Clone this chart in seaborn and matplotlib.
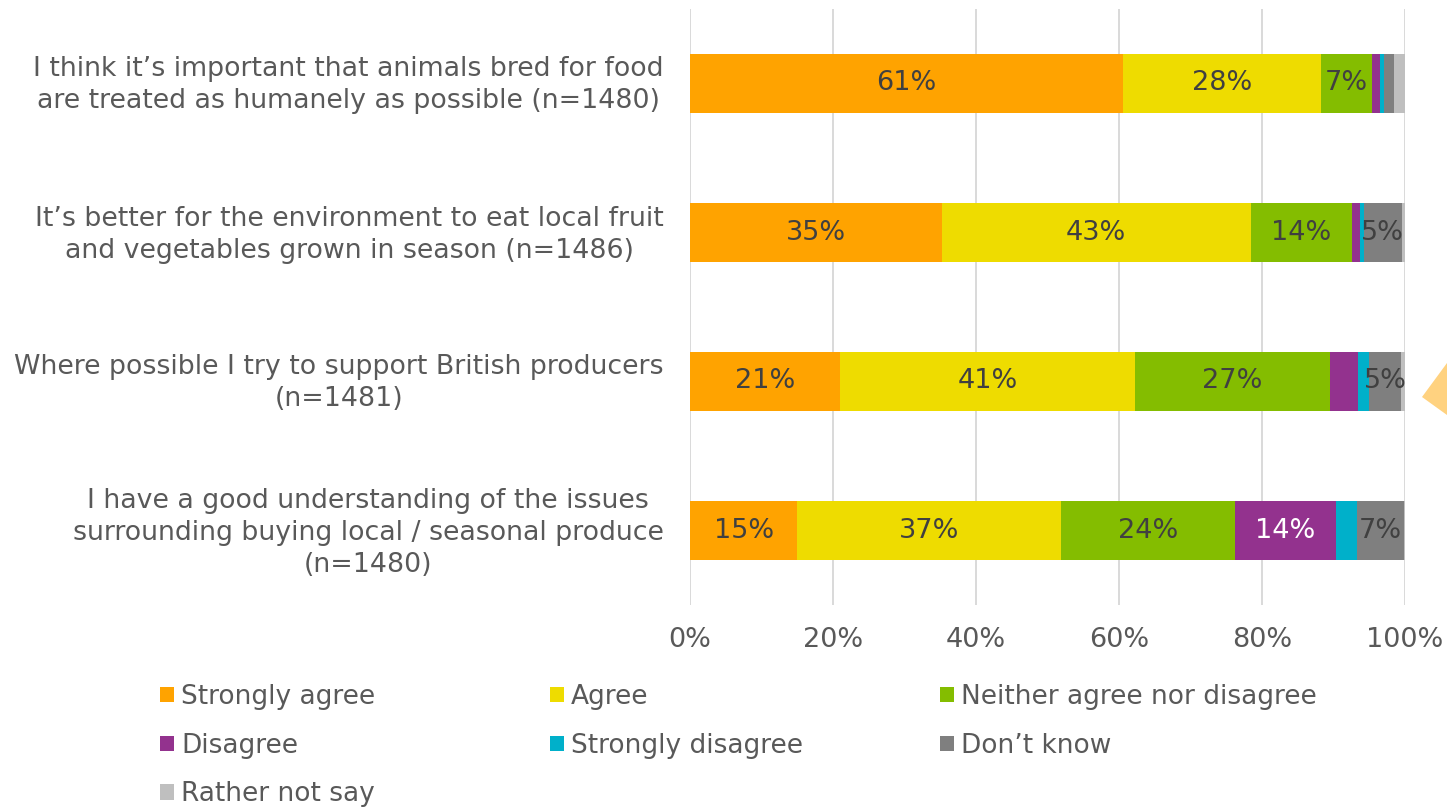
import matplotlib
matplotlib.use("Agg")
import matplotlib.pyplot as plt
import matplotlib.transforms as mtransforms
from matplotlib.patches import Patch, Polygon
import numpy as np
import pandas as pd
import seaborn as sns

# Survey statements (y-axis categories)
statements = [
    "I think it\u2019s important that animals bred for food\nare treated as humanely as possible (n=1480)",
    "It\u2019s better for the environment to eat local fruit\nand vegetables grown in season (n=1486)",
    "Where possible I try to support British producers\n(n=1481)",
    "I have a good understanding of the issues\nsurrounding buying local / seasonal produce\n(n=1480)",
]

# Response categories
responses = ["Strongly agree", "Agree", "Neither agree nor disagree",
             "Disagree", "Strongly disagree", "Don\u2019t know", "Rather not say"]

# Share of respondents (%) per statement, one list per response
strongly_agree = [60.6, 35.2, 21.0, 15.0]
agree = [27.7, 43.2, 41.2, 36.9]
neither = [7.1, 14.2, 27.3, 24.3]
disagree = [1.1, 1.1, 3.9, 14.1]
strongly_disagree = [0.6, 0.5, 1.5, 3.0]
dont_know = [1.4, 5.4, 4.6, 6.6]
rather_not_say = [1.5, 0.4, 0.5, 0.1]

colors = ["#FFA300", "#EEDC00", "#84BD00", "#93328E", "#00B0CA", "#7F7F7F", "#BFBFBF"]
label_colors = ["#404040", "#404040", "#404040", "#FFFFFF", "#404040", "#404040", "#404040"]

values = np.array([strongly_agree, agree, neither, disagree,
                   strongly_disagree, dont_know, rather_not_say])
cumulative = values.cumsum(axis=0)

sns.set_theme(style="white")
plt.rcParams["font.family"] = ["DejaVu Sans"]

TEXT = 19
LABEL = 19.3
NUM = 19.5

fig = plt.figure(figsize=(14.47, 8.08), dpi=100)
ax = fig.add_axes([690 / 1447, 1 - 605 / 808, 715 / 1447, 596 / 808])

# Stacked bars: draw cumulative totals from the last response back to the first
for i in range(len(responses) - 1, -1, -1):
    df = pd.DataFrame({"statement": statements, "total": cumulative[i]})
    sns.barplot(data=df, x="total", y="statement", orient="h", color=colors[i],
                width=0.4, saturation=1, ax=ax, zorder=3, linewidth=0)

# Value labels centred in segments of at least ~5%
for i in range(len(responses)):
    for j in range(len(statements)):
        v = values[i, j]
        if v >= 4.5:
            x = cumulative[i, j] - v / 2
            ax.text(x, j, f"{round(v)}%", ha="center", va="center",
                    fontsize=NUM, color=label_colors[i], zorder=5)

ax.set_xlim(0, 100)
ax.set_ylim(3.5, -0.5)
ax.set_xticks(np.arange(0, 101, 20))
ax.set_xticklabels([f"{t}%" for t in range(0, 101, 20)])
ax.grid(axis="x", color="#D9D9D9", linewidth=1.4, zorder=0)
ax.grid(axis="y", visible=False)
for s in ax.spines.values():
    s.set_visible(False)
ax.set_xlabel("")
ax.set_ylabel("")
ax.tick_params(axis="x", length=0, pad=16, labelsize=NUM, labelcolor="#595959")
ax.tick_params(axis="y", length=0, pad=19, labelsize=LABEL, labelcolor="#595959")
lift = mtransforms.ScaledTranslation(0, 4 / 100, fig.dpi_scale_trans)
for lbl in ax.get_yticklabels():
    lbl.set_multialignment("center")
    lbl.set_linespacing(1.3)
    lbl.set_transform(lbl.get_transform() + lift)

# Legend in three columns, filled row by row
columns = [[0, 3, 6], [1, 4], [2, 5]]
col_x = [160 / 1447, 550 / 1447, 940 / 1447]
for cx, idx in zip(col_x, columns):
    handles = [Patch(facecolor=colors[k], edgecolor="none", label=responses[k]) for k in idx]
    fig.legend(handles=handles, loc="upper left", bbox_to_anchor=(cx, 1 - 684 / 808),
               frameon=False, fontsize=TEXT, labelcolor="#595959",
               handlelength=0.53, handleheight=0.53, handletextpad=0.27,
               labelspacing=0.86, borderpad=0, borderaxespad=0)

# Callout pointer at the right edge
fig.patches.append(Polygon([(1422 / 1447, 1 - 397 / 808), (1.0, 1 - 363 / 808),
                            (1.0, 1 - 415 / 808)], closed=True,
                           transform=fig.transFigure, facecolor="#FFD280",
                           edgecolor="none"))

fig.savefig("out.png", dpi=100)
